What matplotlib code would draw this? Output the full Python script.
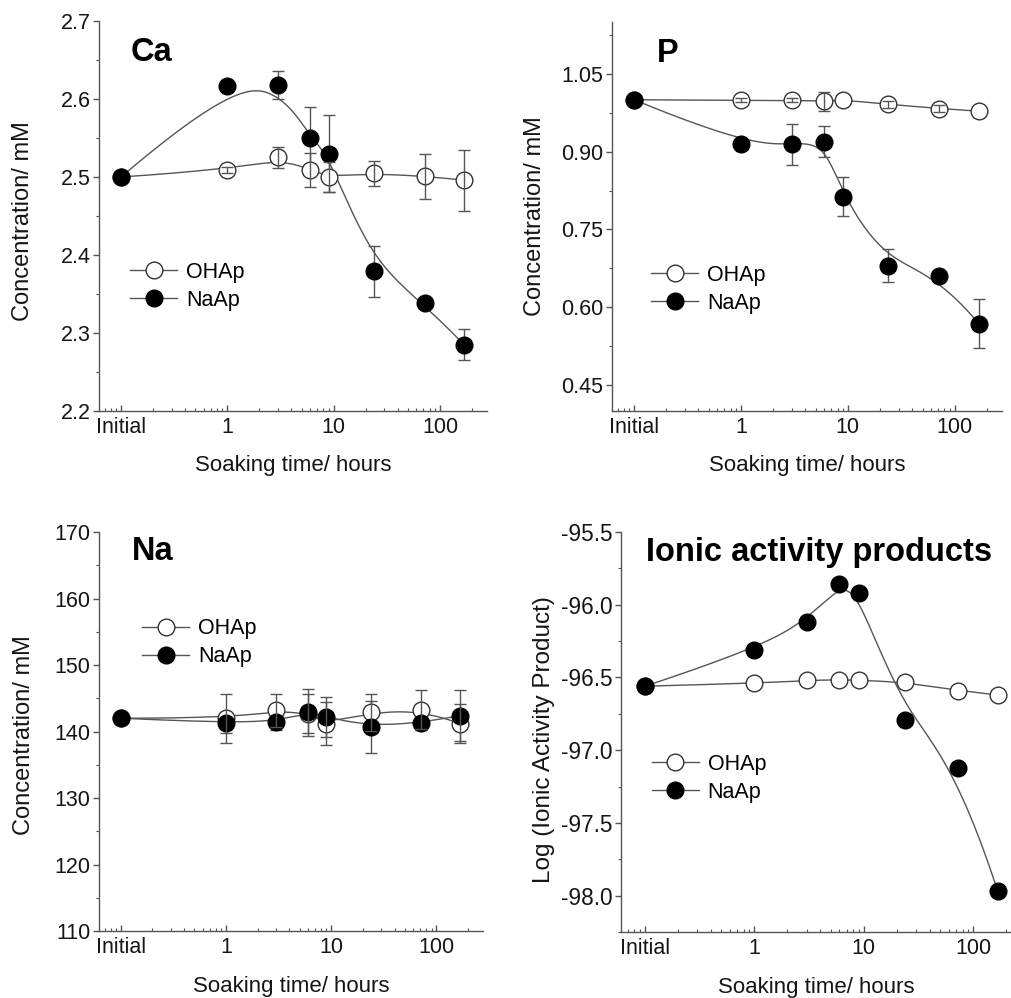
import numpy as np
import matplotlib
matplotlib.use("Agg")
import matplotlib.pyplot as plt
from matplotlib.ticker import FixedLocator, LogLocator, MultipleLocator, NullFormatter, FormatStrFormatter

plt.rcParams['font.family'] = ['Liberation Sans', 'DejaVu Sans']
plt.rcParams['axes.unicode_minus'] = False

# ---------------- data ----------------
hours = [0.1, 1, 3, 6, 9, 24, 72, 168]          # 0.1 stands for "Initial"
xtick_vals = [0.1, 1, 10, 100]
xtick_labels = ['Initial', '1', '10', '100']

ca_ohap = [2.500, 2.509, 2.525, 2.509, 2.500, 2.505, 2.501, 2.496]
ca_ohap_err = [0, 0.004, 0.014, 0.022, 0.019, 0.016, 0.029, 0.039]
ca_naap = [2.500, 2.616, 2.618, 2.550, 2.530, 2.379, 2.338, 2.285]
ca_naap_err = [0, 0, 0.018, 0.040, 0.049, 0.033, 0, 0.020]

p_ohap = [1.000, 0.999, 0.999, 0.997, 1.000, 0.991, 0.983, 0.978]
p_ohap_err = [0, 0.004, 0.004, 0.018, 0, 0.006, 0.006, 0]
p_naap = [1.000, 0.915, 0.914, 0.919, 0.813, 0.680, 0.660, 0.568]
p_naap_err = [0, 0, 0.039, 0.030, 0.038, 0.032, 0, 0.047]

na_ohap = [142.0, 142.0, 143.2, 142.7, 141.2, 142.9, 143.3, 141.2]
na_ohap_err = [0, 3.7, 2.5, 2.9, 3.3, 2.8, 2.9, 2.9]
na_naap = [142.0, 141.3, 141.5, 142.9, 142.2, 140.7, 141.3, 142.4]
na_naap_err = [0.8, 1.5, 1.2, 3.5, 3.0, 3.9, 1.0, 3.8]

iap_ohap = [-96.56, -96.54, -96.52, -96.515, -96.52, -96.53, -96.59, -96.62]
iap_naap = [-96.56, -96.31, -96.12, -95.86, -95.92, -96.79, -97.12, -97.97]

LINE = '#555555'
TXT = '#151515'
FS = 15.5
XLAB_FS = 16
YLAB_FS = 17
TITLE_FS = 23.5


def bspline_curve(xc, yc, n=500):
    """Clamped cubic B-spline using the data points as control points."""
    P = np.column_stack([xc, yc]).astype(float)
    m = len(P)
    k = 3
    knots = np.concatenate([[0] * k, np.arange(0, m - k + 1), [m - k] * k]).astype(float)
    t = np.linspace(0, m - k, n)
    t[-1] -= 1e-9
    N = np.zeros((len(knots) - 1, n))
    for i in range(len(knots) - 1):
        N[i] = ((knots[i] <= t) & (t < knots[i + 1])).astype(float)
    for d in range(1, k + 1):
        Nn = np.zeros((len(knots) - 1 - d, n))
        for i in range(len(knots) - 1 - d):
            a = 0.0
            b = 0.0
            den1 = knots[i + d] - knots[i]
            if den1 > 0:
                a = (t - knots[i]) / den1 * N[i]
            den2 = knots[i + d + 1] - knots[i + 1]
            if den2 > 0:
                b = (knots[i + d + 1] - t) / den2 * N[i + 1]
            Nn[i] = a + b
        N = Nn
    C = N.T @ P
    return C[:, 0], C[:, 1]


def draw_series(ax, x, y, err, filled, label):
    lx, ly = bspline_curve(np.log10(x), y)
    ax.plot(10 ** lx, ly, color=LINE, lw=1.0, zorder=2)
    if err is not None:
        e = np.asarray(err, float)
        msk = e > 0
        ax.errorbar(np.asarray(x)[msk], np.asarray(y)[msk], yerr=e[msk], fmt='none',
                    ecolor=LINE, elinewidth=1.0, capsize=4.5, capthick=1.0,
                    zorder=3 if filled else 5)
    kw = dict(marker='o', ms=12, mfc='black' if filled else 'white',
              mec='black' if filled else '#333333', mew=1.0)
    ax.plot(x, y, linestyle='none', zorder=4, **kw)
    ax.plot([], [], color=LINE, lw=1.0, label=label, **kw)


def style_axis(ax, ylim, major, minor, xlim, yfs=FS):
    ax.set_xscale('log')
    ax.set_xlim(*xlim)
    ax.set_ylim(*ylim)
    ax.xaxis.set_major_locator(FixedLocator(xtick_vals))
    ax.set_xticklabels(xtick_labels)
    ax.xaxis.set_minor_locator(LogLocator(base=10, subs=np.arange(2, 10)))
    ax.xaxis.set_minor_formatter(NullFormatter())
    ax.yaxis.set_major_locator(MultipleLocator(major))
    ax.yaxis.set_minor_locator(MultipleLocator(minor))
    for s in ['top', 'right']:
        ax.spines[s].set_visible(False)
    for s in ['left', 'bottom']:
        ax.spines[s].set_color('#555555')
        ax.spines[s].set_linewidth(1.0)
    ax.tick_params(axis='x', which='major', direction='in', length=4, width=1,
                   color='#555555', labelsize=FS, labelcolor=TXT, pad=4)
    ax.tick_params(axis='x', which='minor', direction='in', length=2, width=0.8,
                   color='#555555')
    ax.tick_params(axis='y', which='major', direction='out', length=4, width=1,
                   color='#555555', labelsize=yfs, labelcolor=TXT, pad=2)
    ax.tick_params(axis='y', which='minor', direction='out', length=2, width=0.8,
                   color='#555555')
    ax.set_xlabel('Soaking time/ hours', fontsize=XLAB_FS, color=TXT)
    ax.xaxis.set_label_coords(0.5, -0.112)
    ax.xaxis.label.set_va('top')


def add_legend(ax, anchor):
    ax.legend(loc='upper left', bbox_to_anchor=anchor, frameon=False,
              fontsize=FS, borderpad=0, borderaxespad=0, handlelength=2.2,
              handletextpad=0.4, labelspacing=0.32)


fig = plt.figure(figsize=(10.11, 9.98), dpi=100)

XL = (0.062, 277)

# Ca
ax1 = fig.add_axes([0.0979, 0.5882, 0.3838, 0.3908])
style_axis(ax1, (2.2, 2.7), 0.1, 0.05, XL)
ax1.yaxis.set_major_formatter(FormatStrFormatter('%.1f'))
draw_series(ax1, hours, ca_ohap, ca_ohap_err, False, 'OHAp')
draw_series(ax1, hours, ca_naap, ca_naap_err, True, 'NaAp')
ax1.set_ylabel('Concentration/ mM', fontsize=YLAB_FS, color=TXT)
ax1.yaxis.set_label_coords(-0.168, 0.487)
ax1.text(0.082, 0.918, 'Ca', transform=ax1.transAxes, fontsize=TITLE_FS,
         fontweight='bold', va='center', ha='left', color='black')
add_legend(ax1, (0.08, 0.382))

# P
ax2 = fig.add_axes([0.6053, 0.5882, 0.3858, 0.3898])
style_axis(ax2, (0.40, 1.15), 0.15, 0.075, XL)
ax2.yaxis.set_major_locator(FixedLocator([0.45, 0.60, 0.75, 0.90, 1.05]))
ax2.yaxis.set_major_formatter(FormatStrFormatter('%.2f'))
draw_series(ax2, hours, p_ohap, p_ohap_err, False, 'OHAp')
draw_series(ax2, hours, p_naap, p_naap_err, True, 'NaAp')
ax2.set_ylabel('Concentration/ mM', fontsize=YLAB_FS, color=TXT)
ax2.yaxis.set_label_coords(-0.17, 0.5)
ax2.text(0.115, 0.92, 'P', transform=ax2.transAxes, fontsize=TITLE_FS,
         fontweight='bold', va='center', ha='left', color='black')
add_legend(ax2, (0.10, 0.376))

# Na
ax3 = fig.add_axes([0.0979, 0.0671, 0.3798, 0.3998])
style_axis(ax3, (110, 170), 10, 5, XL)
draw_series(ax3, hours, na_ohap, na_ohap_err, False, 'OHAp')
draw_series(ax3, hours, na_naap, na_naap_err, True, 'NaAp')
ax3.set_ylabel('Concentration/ mM', fontsize=YLAB_FS, color=TXT)
ax3.yaxis.set_label_coords(-0.167, 0.49)
ax3.text(0.086, 0.95, 'Na', transform=ax3.transAxes, fontsize=TITLE_FS,
         fontweight='bold', va='center', ha='left', color='black')
add_legend(ax3, (0.112, 0.784))

# IAP
ax4 = fig.add_axes([0.6142, 0.0661, 0.3858, 0.4008])
style_axis(ax4, (-98.25, -95.5), 0.5, 0.25, (0.0604, 222), yfs=16.3)
ax4.yaxis.set_major_formatter(FormatStrFormatter('%.1f'))
draw_series(ax4, hours, iap_ohap, None, False, 'OHAp')
draw_series(ax4, hours, iap_naap, None, True, 'NaAp')
ax4.set_ylabel('Log (Ionic Activity Product)', fontsize=17.5, color=TXT)
ax4.yaxis.set_label_coords(-0.168, 0.48)
ax4.text(0.064, 0.95, 'Ionic activity products', transform=ax4.transAxes,
         fontsize=TITLE_FS, fontweight='bold', va='center', ha='left', color='black')
add_legend(ax4, (0.079, 0.446))

fig.savefig('out.png', dpi=100)
